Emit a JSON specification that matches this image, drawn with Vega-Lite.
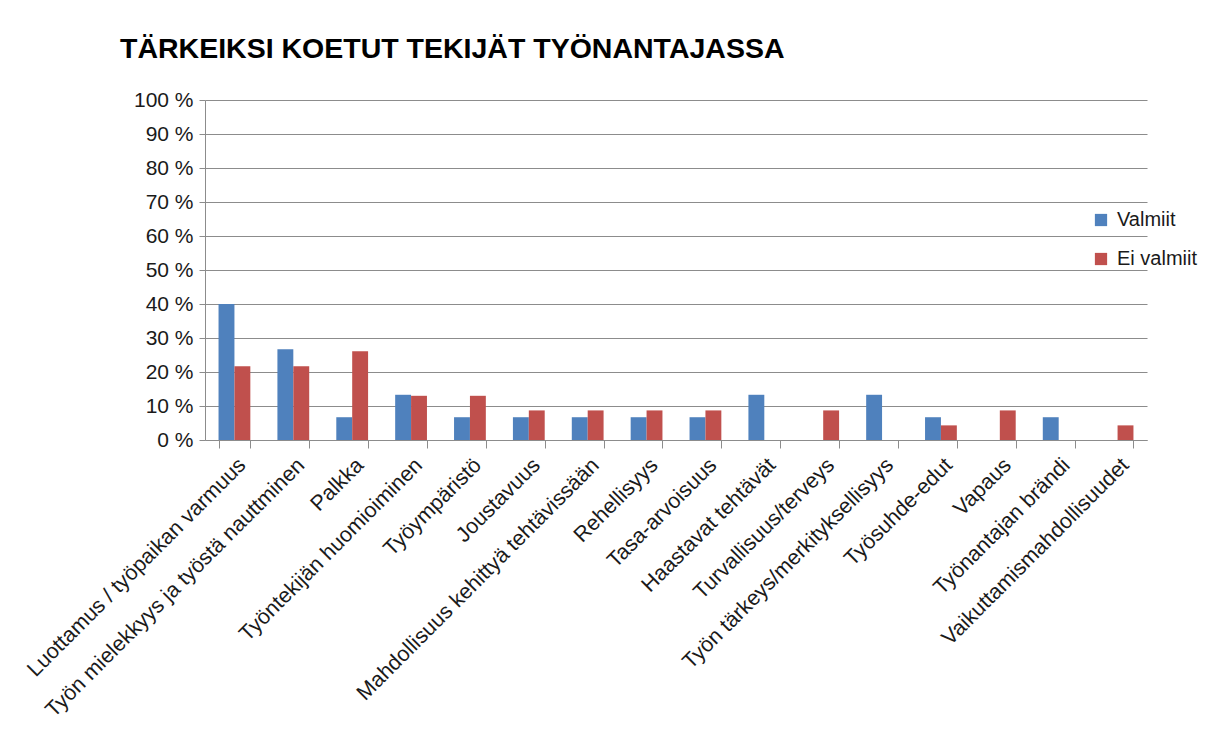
{
  "$schema": "https://vega.github.io/schema/vega-lite/v6.json",
  "autosize": "none",
  "width": 942,
  "height": 340,
  "padding": {"left": 205, "top": 100, "right": 61, "bottom": 305},
  "background": "white",
  "title": {
    "text": "TÄRKEIKSI KOETUT TEKIJÄT TYÖNANTAJASSA",
    "anchor": "start",
    "frame": "group",
    "dx": -85,
    "offset": 26,
    "font": "Liberation Sans",
    "fontSize": 28.5,
    "fontWeight": "bold",
    "color": "#000000"
  },
  "data": {
    "values": [
      {"tekija": "Luottamus / työpaikan varmuus", "ryhma": "Valmiit", "osuus": 40.0},
      {"tekija": "Luottamus / työpaikan varmuus", "ryhma": "Ei valmiit", "osuus": 21.7},
      {"tekija": "Työn mielekkyys ja työstä nauttminen", "ryhma": "Valmiit", "osuus": 26.7},
      {"tekija": "Työn mielekkyys ja työstä nauttminen", "ryhma": "Ei valmiit", "osuus": 21.7},
      {"tekija": "Palkka", "ryhma": "Valmiit", "osuus": 6.7},
      {"tekija": "Palkka", "ryhma": "Ei valmiit", "osuus": 26.1},
      {"tekija": "Työntekijän huomioiminen", "ryhma": "Valmiit", "osuus": 13.3},
      {"tekija": "Työntekijän huomioiminen", "ryhma": "Ei valmiit", "osuus": 13.0},
      {"tekija": "Työympäristö", "ryhma": "Valmiit", "osuus": 6.7},
      {"tekija": "Työympäristö", "ryhma": "Ei valmiit", "osuus": 13.0},
      {"tekija": "Joustavuus", "ryhma": "Valmiit", "osuus": 6.7},
      {"tekija": "Joustavuus", "ryhma": "Ei valmiit", "osuus": 8.7},
      {"tekija": "Mahdollisuus kehittyä tehtävissään", "ryhma": "Valmiit", "osuus": 6.7},
      {"tekija": "Mahdollisuus kehittyä tehtävissään", "ryhma": "Ei valmiit", "osuus": 8.7},
      {"tekija": "Rehellisyys", "ryhma": "Valmiit", "osuus": 6.7},
      {"tekija": "Rehellisyys", "ryhma": "Ei valmiit", "osuus": 8.7},
      {"tekija": "Tasa-arvoisuus", "ryhma": "Valmiit", "osuus": 6.7},
      {"tekija": "Tasa-arvoisuus", "ryhma": "Ei valmiit", "osuus": 8.7},
      {"tekija": "Haastavat tehtävät", "ryhma": "Valmiit", "osuus": 13.3},
      {"tekija": "Haastavat tehtävät", "ryhma": "Ei valmiit", "osuus": 0},
      {"tekija": "Turvallisuus/terveys", "ryhma": "Valmiit", "osuus": 0},
      {"tekija": "Turvallisuus/terveys", "ryhma": "Ei valmiit", "osuus": 8.7},
      {"tekija": "Työn tärkeys/merkityksellisyys", "ryhma": "Valmiit", "osuus": 13.3},
      {"tekija": "Työn tärkeys/merkityksellisyys", "ryhma": "Ei valmiit", "osuus": 0},
      {"tekija": "Työsuhde-edut", "ryhma": "Valmiit", "osuus": 6.7},
      {"tekija": "Työsuhde-edut", "ryhma": "Ei valmiit", "osuus": 4.3},
      {"tekija": "Vapaus", "ryhma": "Valmiit", "osuus": 0},
      {"tekija": "Vapaus", "ryhma": "Ei valmiit", "osuus": 8.7},
      {"tekija": "Työnantajan brändi", "ryhma": "Valmiit", "osuus": 6.7},
      {"tekija": "Työnantajan brändi", "ryhma": "Ei valmiit", "osuus": 0},
      {"tekija": "Vaikuttamismahdollisuudet", "ryhma": "Valmiit", "osuus": 0},
      {"tekija": "Vaikuttamismahdollisuudet", "ryhma": "Ei valmiit", "osuus": 4.3}
    ]
  },
  "mark": {"type": "bar"},
  "encoding": {
    "x": {
      "field": "tekija",
      "type": "nominal",
      "sort": null,
      "title": null,
      "scale": {"paddingInner": 0.46, "paddingOuter": 0.23},
      "axis": {
        "labelAngle": -45,
        "labelAlign": "right",
        "labelBaseline": "top",
        "labelFont": "Liberation Sans",
        "labelFontSize": 21.5,
        "labelColor": "#1a1a1a",
        "labelPadding": 6,
        "labelLimit": 450,
        "labelOverlap": false,
        "tickBand": "extent",
        "tickSize": 8,
        "tickColor": "#8c8c8c",
        "domainColor": "#8c8c8c",
        "grid": false
      }
    },
    "xOffset": {"field": "ryhma", "type": "nominal", "sort": ["Valmiit", "Ei valmiit"]},
    "y": {
      "field": "osuus",
      "type": "quantitative",
      "title": null,
      "scale": {"domain": [0, 100], "nice": false},
      "axis": {
        "values": [0, 10, 20, 30, 40, 50, 60, 70, 80, 90, 100],
        "labelExpr": "datum.value + ' %'",
        "labelFont": "Liberation Sans",
        "labelFontSize": 21,
        "labelColor": "#1a1a1a",
        "labelPadding": 6,
        "tickSize": 6,
        "tickColor": "#8c8c8c",
        "domainColor": "#8c8c8c",
        "gridColor": "#8c8c8c",
        "gridWidth": 1.2
      }
    },
    "color": {
      "field": "ryhma",
      "type": "nominal",
      "sort": ["Valmiit", "Ei valmiit"],
      "scale": {"domain": ["Valmiit", "Ei valmiit"], "range": ["#4f81bd", "#c0504d"]},
      "legend": {
        "title": null,
        "orient": "none",
        "legendX": 886,
        "legendY": 110,
        "symbolType": "square",
        "symbolSize": 150,
        "symbolStrokeWidth": 0,
        "labelFont": "Liberation Sans",
        "labelFontSize": 20,
        "labelColor": "#1a1a1a",
        "rowPadding": 19,
        "labelOffset": 6
      }
    }
  },
  "config": {
    "view": {"stroke": null}
  }
}
